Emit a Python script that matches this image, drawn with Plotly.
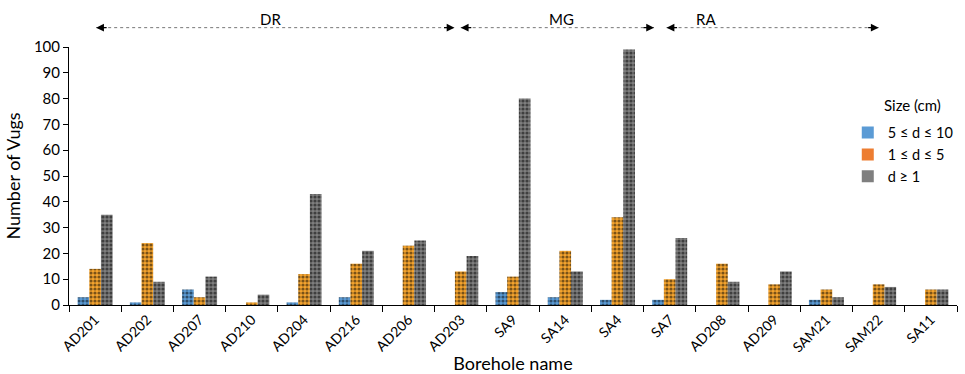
import plotly.graph_objects as go

boreholes = ["AD201", "AD202", "AD207", "AD210", "AD204", "AD216", "AD206", "AD203",
             "SA9", "SA14", "SA4", "SA7", "AD208", "AD209", "SAM21", "SAM22", "SA11"]
size_5_10 = [3, 1, 6, 0, 1, 3, 0, 0, 5, 3, 2, 2, 0, 0, 2, 0, 0]
size_1_5 = [14, 24, 3, 1, 12, 16, 23, 13, 11, 21, 34, 10, 16, 8, 6, 8, 6]
size_ge_1 = [35, 9, 11, 4, 43, 21, 25, 19, 80, 13, 99, 26, 9, 13, 3, 7, 6]

series_names = ["5 ≤ d ≤ 10", "1 ≤ d ≤ 5", "d ≥ 1"]
legend_colors = ["#5B9BD5", "#ED7D31", "#7F7F7F"]
bar_colors = ["#5B9BD5", "#F5A42E", "#7F7F7F"]
series_values = [size_5_10, size_1_5, size_ge_1]

# Groups of boreholes: (label, arrow start, arrow end, label position) in category units
groups = [("DR", 0.02, 6.88, 3.35), ("MG", 7.0, 10.7, 8.93), ("RA", 10.94, 15.0, 11.7)]

FONT = "Lato"

fig = go.Figure()
for i, (name, vals) in enumerate(zip(series_names, series_values)):
    fig.add_trace(go.Bar(
        x=boreholes, y=vals, name=name, showlegend=False,
        offsetgroup=str(i),
        marker=dict(color=bar_colors[i], line=dict(width=0),
                    pattern=dict(shape=".", fgcolor="black", size=4, solidity=0.5)),
    ))
# plain swatches for the legend
for i, name in enumerate(series_names):
    fig.add_trace(go.Bar(
        x=[boreholes[0]], y=[None], name=name, offsetgroup=str(i),
        marker=dict(color=legend_colors[i], line=dict(width=0)),
    ))

for label, x0, x1, xl in groups:
    fig.add_shape(type="line", xref="x", yref="paper", x0=x0, x1=x1, y0=1.075, y1=1.075,
                  line=dict(color="#777777", width=1, dash="dot"))
    for tip, off in ((x0, 12), (x1, -12)):
        fig.add_annotation(x=tip, y=1.075, xref="x", yref="paper", ax=off, ay=0,
                           showarrow=True, arrowhead=2, arrowsize=1.3, arrowwidth=1.2,
                           arrowcolor="black", text="")
    fig.add_annotation(x=xl, y=1.075, xref="x", yref="paper", text=label,
                       showarrow=False, yanchor="bottom", yshift=-2,
                       font=dict(family=FONT, size=15, color="black"))

# legend heading, aligned with the entry labels
fig.add_annotation(x=0.916, y=0.775, xref="paper", yref="paper", text="Size (cm)",
                   showarrow=False, xanchor="left", yanchor="middle",
                   font=dict(family=FONT, size=15, color="black"))

fig.update_layout(
    width=965, height=374,
    margin=dict(l=69, r=8, t=47, b=69, autoexpand=False),
    paper_bgcolor="white", plot_bgcolor="white",
    barmode="group", bargap=0.33, bargroupgap=0,
    font=dict(family=FONT, size=14, color="black"),
    legend=dict(x=1.002, y=0.73, xanchor="right", yanchor="top",
                font=dict(size=14.5), bgcolor="rgba(0,0,0,0)", tracegroupgap=0,
                itemwidth=30),
    xaxis=dict(
        title=dict(text="Borehole name", font=dict(size=18), standoff=4),
        tickangle=-45, tickson="boundaries", ticks="outside", ticklen=6,
        tickcolor="black", showline=True, linecolor="black", linewidth=1,
        tickfont=dict(size=14), automargin=False,
    ),
    yaxis=dict(
        title=dict(text="Number of Vugs", font=dict(size=18), standoff=8),
        range=[0, 100], dtick=10, ticks="outside", ticklen=5, tickcolor="black",
        showline=True, linecolor="black", linewidth=1, showgrid=False,
        zeroline=False, tickfont=dict(size=15), automargin=False,
    ),
)

fig.write_html("out.html")
